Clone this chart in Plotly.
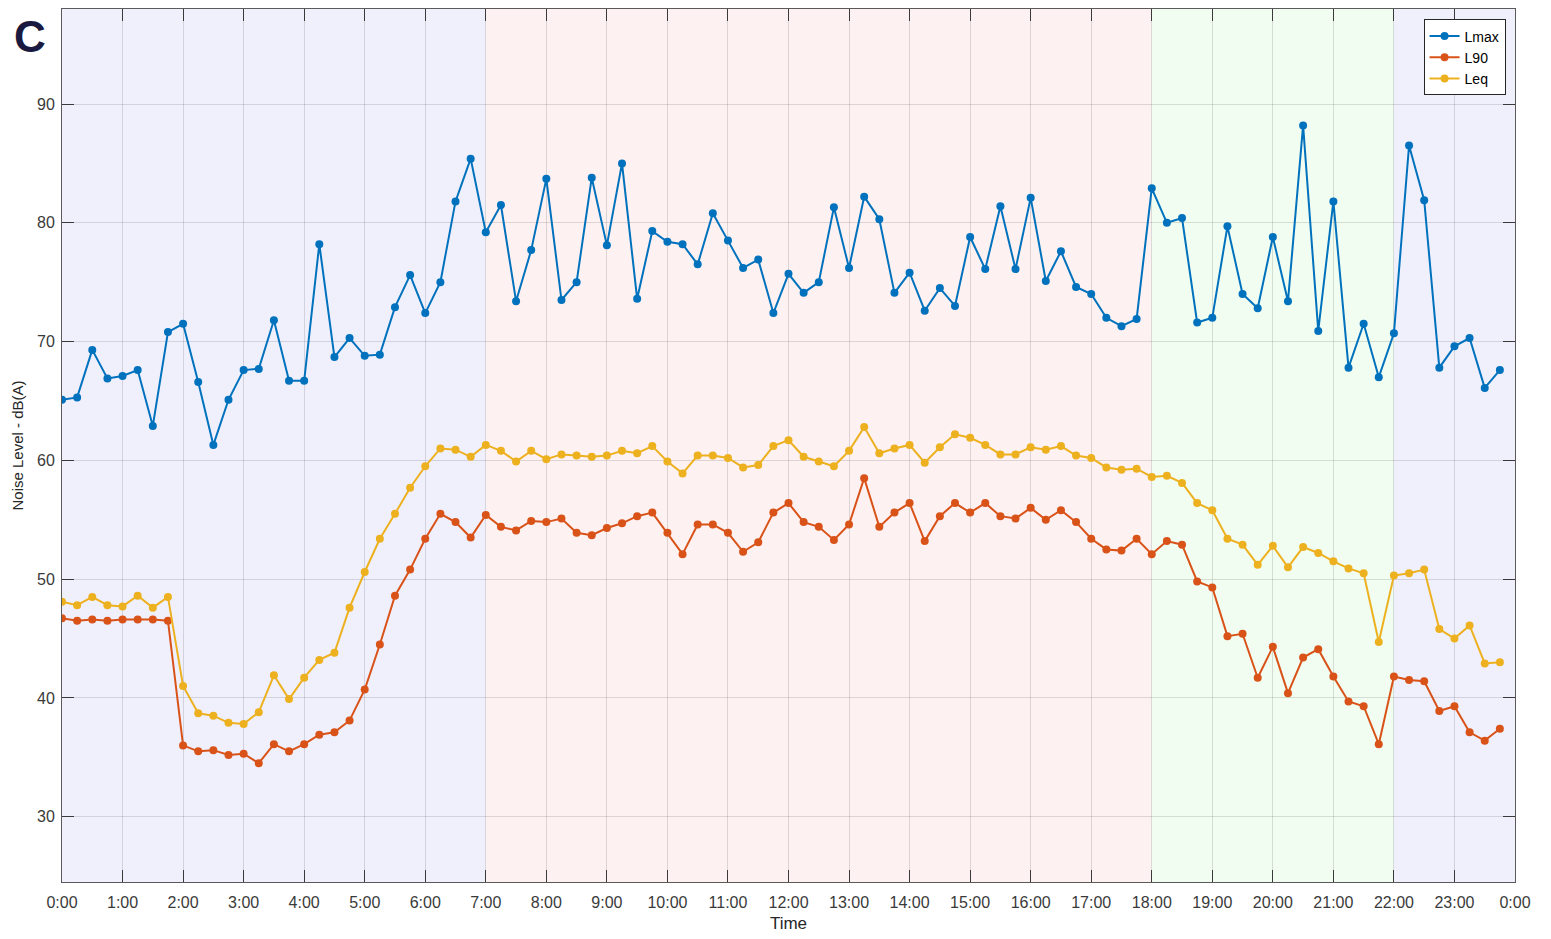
import plotly.graph_objects as go

tick_labels = ["0:00", "1:00", "2:00", "3:00", "4:00", "5:00", "6:00", "7:00", "8:00", "9:00",
               "10:00", "11:00", "12:00", "13:00", "14:00", "15:00", "16:00", "17:00", "18:00",
               "19:00", "20:00", "21:00", "22:00", "23:00", "0:00"]

lmax = [65.1, 65.3, 69.3, 66.9, 67.1, 67.6, 62.9, 70.8, 71.5, 66.6, 61.3, 65.1,
        67.6, 67.7, 71.8, 66.7, 66.7, 78.2, 68.7, 70.3, 68.8, 68.9, 72.9, 75.6,
        72.4, 75.0, 81.8, 85.4, 79.2, 81.5, 73.4, 77.7, 83.7, 73.5, 75.0, 83.8,
        78.1, 85.0, 73.6, 79.3, 78.4, 78.2, 76.5, 80.8, 78.5, 76.2, 76.9, 72.4,
        75.7, 74.1, 75.0, 81.3, 76.2, 82.2, 80.3, 74.1, 75.8, 72.6, 74.5, 73.0,
        78.8, 76.1, 81.4, 76.1, 82.1, 75.1, 77.6, 74.6, 74.0, 72.0, 71.3, 71.9,
        82.9, 80.0, 80.4, 71.6, 72.0, 79.7, 74.0, 72.8, 78.8, 73.4, 88.2, 70.9,
        81.8, 67.8, 71.5, 67.0, 70.7, 86.5, 81.9, 67.8, 69.6, 70.3, 66.1, 67.6]

l90 = [46.7, 46.5, 46.6, 46.5, 46.6, 46.6, 46.6, 46.5, 36.0, 35.5, 35.6, 35.2,
       35.3, 34.5, 36.1, 35.5, 36.1, 36.9, 37.1, 38.1, 40.7, 44.5, 48.6, 50.8,
       53.4, 55.5, 54.8, 53.5, 55.4, 54.4, 54.1, 54.9, 54.8, 55.1, 53.9, 53.7,
       54.3, 54.7, 55.3, 55.6, 53.9, 52.1, 54.6, 54.6, 53.9, 52.3, 53.1, 55.6,
       56.4, 54.8, 54.4, 53.3, 54.6, 58.5, 54.4, 55.6, 56.4, 53.2, 55.3, 56.4,
       55.6, 56.4, 55.3, 55.1, 56.0, 55.0, 55.8, 54.8, 53.4, 52.5, 52.4, 53.4,
       52.1, 53.2, 52.9, 49.8, 49.3, 45.2, 45.4, 41.7, 44.3, 40.4, 43.4, 44.1,
       41.8, 39.7, 39.3, 36.1, 41.8, 41.5, 41.4, 38.9, 39.3, 37.1, 36.4, 37.4]

leq = [48.1, 47.8, 48.5, 47.8, 47.7, 48.6, 47.6, 48.5, 41.0, 38.7, 38.5, 37.9,
       37.8, 38.8, 41.9, 39.9, 41.7, 43.2, 43.8, 47.6, 50.6, 53.4, 55.5, 57.7,
       59.5, 61.0, 60.9, 60.3, 61.3, 60.8, 59.9, 60.8, 60.1, 60.5, 60.4, 60.3,
       60.4, 60.8, 60.6, 61.2, 59.9, 58.9, 60.4, 60.4, 60.2, 59.4, 59.6, 61.2,
       61.7, 60.3, 59.9, 59.5, 60.8, 62.8, 60.6, 61.0, 61.3, 59.8, 61.1, 62.2,
       61.9, 61.3, 60.5, 60.5, 61.1, 60.9, 61.2, 60.4, 60.2, 59.4, 59.2, 59.3,
       58.6, 58.7, 58.1, 56.4, 55.8, 53.4, 52.9, 51.2, 52.8, 51.0, 52.7, 52.2,
       51.5, 50.9, 50.5, 44.7, 50.3, 50.5, 50.8, 45.8, 45.0, 46.1, 42.9, 43.0]

# Time in hours, 15-minute steps
hours = [i * 0.25 for i in range(len(lmax))]
tick_hours = list(range(len(tick_labels)))

# Shaded periods (start hour, end hour, colour)
period_starts = [0, 7, 18, 22]
period_ends = [7, 18, 22, 24]
period_colors = ["#F0F0FD", "#FDF1F1", "#F1FDF1", "#F0F0FD"]

series_names = ["Lmax", "L90", "Leq"]
series_colors = ["#0072BD", "#D95319", "#EDB120"]

FONT = "Liberation Sans, Arial, sans-serif"

fig = go.Figure()

for name, vals, col in zip(series_names, [lmax, l90, leq], series_colors):
    fig.add_trace(go.Scatter(
        x=hours, y=vals, name=name, mode="lines+markers",
        line=dict(color=col, width=2),
        marker=dict(color=col, size=8, symbol="circle"),
    ))

for s, e, c in zip(period_starts, period_ends, period_colors):
    fig.add_vrect(x0=s, x1=e, fillcolor=c, opacity=1, layer="below", line_width=0)

axis_common = dict(
    showline=True, linecolor="#5a5a5a", linewidth=1, mirror="ticks",
    ticks="inside", ticklen=12, tickcolor="#3a3a3a", tickwidth=1,
    showgrid=True, gridcolor="rgba(0,0,0,0.12)", gridwidth=1,
    zeroline=False,
    tickfont=dict(family=FONT, size=16, color="#3a3a3a"),
)

fig.update_xaxes(
    range=[0, 24], tickmode="array", tickvals=tick_hours, ticktext=tick_labels,
    ticklabelstandoff=6,
    title=dict(text="Time", font=dict(family=FONT, size=17, color="#262626"), standoff=6),
    layer="above traces",
    **axis_common,
)
fig.update_yaxes(
    range=[24.5, 98], tickmode="array", tickvals=[30, 40, 50, 60, 70, 80, 90],
    ticklabelstandoff=3,
    title=dict(text="Noise Level - dB(A)", font=dict(family=FONT, size=15, color="#262626"), standoff=9),
    layer="above traces",
    **axis_common,
)

fig.add_annotation(
    text="<b>C</b>", xref="paper", yref="paper", x=-0.0345, y=0.999,
    xanchor="left", yanchor="top", showarrow=False,
    font=dict(family=FONT, size=44, color="#1a1a40"),
)

fig.update_layout(
    width=1551, height=939,
    margin=dict(l=54, r=44, t=1, b=65),
    paper_bgcolor="white", plot_bgcolor="white",
    showlegend=True,
    legend=dict(
        x=0.9935, y=0.988, xanchor="right", yanchor="top",
        bgcolor="white", bordercolor="#262626", borderwidth=1,
        font=dict(family=FONT, size=14, color="#000000"),
        itemwidth=30, tracegroupgap=0,
    ),
)

fig.write_html("out.html")
